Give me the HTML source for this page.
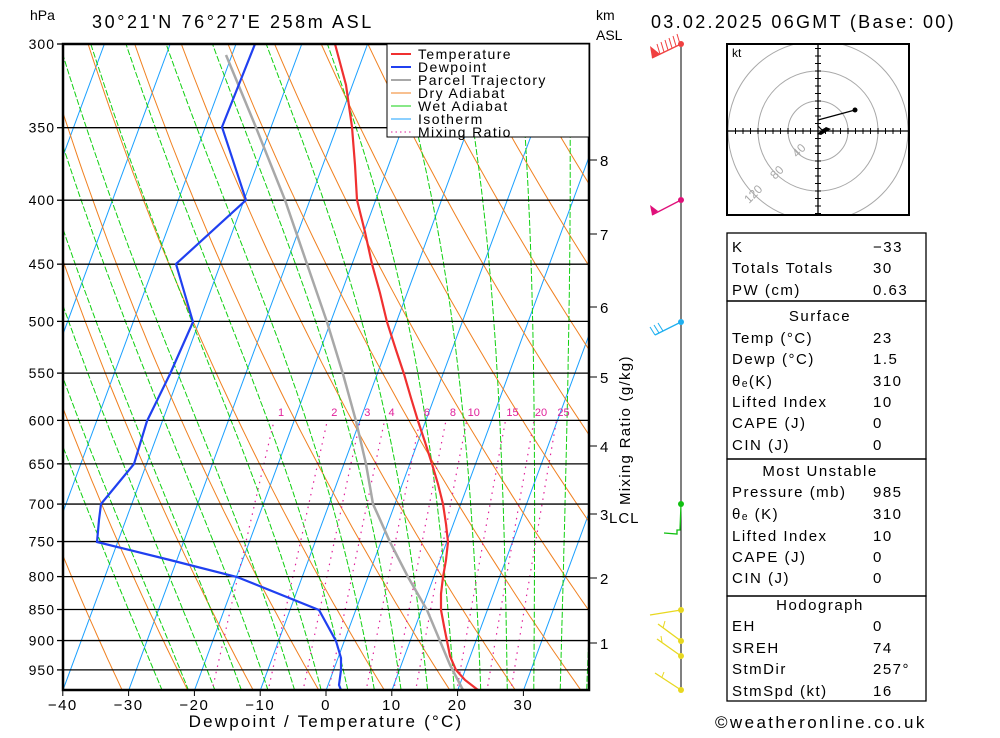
<!DOCTYPE html>
<html><head><meta charset="utf-8"><style>
body{margin:0;background:#fff;width:1000px;height:733px;overflow:hidden}
svg{font-family:"Liberation Sans",sans-serif}
</style></head><body>
<svg id="s" width="1000" height="733" xmlns="http://www.w3.org/2000/svg">
<defs><clipPath id="c"><rect x="63" y="44" width="526" height="646"/></clipPath>
<clipPath id="hc"><rect x="727" y="44" width="182" height="171"/></clipPath></defs>
<g id="bg" clip-path="url(#c)"></g>
<g id="fg"></g>
</svg>
<script>
var NS="http://www.w3.org/2000/svg";
function el(p,t,a,txt){var e=document.createElementNS(NS,t);for(var k in a)e.setAttribute(k,a[k]);if(txt!=null)e.textContent=txt;p.appendChild(e);return e;}
var bg=document.getElementById('bg'),fg=document.getElementById('fg');
function Y(p){return 44+543*Math.log(p/300);}
function X(T,p){return 326+6.58*T+0.37*(690-Y(p));}
function poly(g,pts,st){el(g,'polyline',Object.assign({points:pts.map(function(q){return q[0].toFixed(1)+','+q[1].toFixed(1)}).join(' '),fill:'none'},st));}
for(var T=-130;T<=40;T+=10){poly(bg,[[X(T,985),690],[X(T,300),44]],{stroke:'#1aa0ff','stroke-width':1});}
for(var th=-40;th<=220;th+=10){var pts=[];for(var p=1000;p>=290;p-=10){var t=(th+273.15)*Math.pow(p/1000,0.286)-273.15;pts.push([X(t,p),Y(p)]);}poly(bg,pts,{stroke:'#f08020','stroke-width':1});}
function es(T){return 6.112*Math.exp(17.67*T/(T+243.5));}
for(var t0=-24;t0<=40;t0+=4){var Tk=t0+273.15,pts=[];for(var p=1000;p>=290;p-=5){var Tc=Tk-273.15;pts.push([X(Tc,p),Y(p)]);var rs=0.622*es(Tc)/(p-es(Tc));var dT=(287*Tk+2.5e6*rs)/(p*(1004+2.5e6*2.5e6*rs*0.622/(287*Tk*Tk)));Tk-=dT*5;}poly(bg,pts,{stroke:'#10d010','stroke-width':1,'stroke-dasharray':'6,2'});}
[1,2,3,4,6,8,10,15,20,25].forEach(function(w){var pts=[];for(var p=990;p>=600;p-=10){var e=w*p/(622+w),l=Math.log(e/6.112),t=243.5*l/(17.67-l);pts.push([X(t,p),Y(p)]);}poly(bg,pts,{stroke:'#e0209a','stroke-width':1.2,'stroke-dasharray':'1.5,5'});el(fg,'text',{x:pts[pts.length-1][0]+7,y:416,'font-size':11,fill:'#e0209a','text-anchor':'middle'},String(w));});
[300,350,400,450,500,550,600,650,700,750,800,850,900,950].forEach(function(p){var y=Y(p);el(fg,'line',{x1:63,x2:589,y1:y,y2:y,stroke:'#000','stroke-width':1.3});el(fg,'line',{x1:57,x2:63,y1:y,y2:y,stroke:'#000','stroke-width':1.3});el(fg,'text',{x:55,y:y+5,'font-size':14,'text-anchor':'end','letter-spacing':'1'},String(p));});
poly(fg,[[226,55],[255,125],[285,200],[307,264],[327,322],[343,374],[356,421],[366,464],[373,504],[378,515],[390,542],[408,577],[427,610],[440,641],[450,665],[463,690]],{stroke:'#a8a8a8','stroke-width':2.5});
poly(fg,[[335,44],[346,85],[352,127],[355,165],[357,200],[365,232],[372,264],[380,293],[387,322],[396,350],[404,374],[411,398],[418,421],[425,442],[432,464],[438,484],[443,504],[446,524],[448,542],[446,560],[443,577],[441,594],[441,610],[444,626],[447,641],[450,656],[456,670],[465,680],[478,690]],{stroke:'#f03030','stroke-width':2.2});
poly(fg,[[255,44],[222,127],[246,200],[176,264],[193,322],[170,374],[147,421],[134,464],[101,504],[99,520],[97,542],[170,560],[237,577],[319,610],[336,641],[341,658],[341,670],[339,685],[341,690]],{stroke:'#2040f0','stroke-width':2.2});
el(fg,'rect',{x:63,y:44,width:526,height:646,fill:'none',stroke:'#000','stroke-width':2.5});
[-40,-30,-20,-10,0,10,20,30].forEach(function(t){var x=326+6.58*t;el(fg,'line',{x1:x,x2:x,y1:690,y2:696,stroke:'#000'});el(fg,'text',{x:x,y:710,'font-size':15,'text-anchor':'middle','letter-spacing':'1.5'},(t<0?'\u2212':'')+Math.abs(t));});
el(fg,'text',{x:326,y:727,'font-size':17,'text-anchor':'middle','letter-spacing':'2.2'},'Dewpoint / Temperature (\u00b0C)');
el(fg,'text',{x:30,y:20,'font-size':14},'hPa');
el(fg,'text',{x:92,y:28,'font-size':18,'letter-spacing':'2.6'},'30\u00b021\'N  76\u00b027\'E  258m  ASL');
el(fg,'text',{x:596,y:20,'font-size':14},'km');
el(fg,'text',{x:596,y:40,'font-size':14},'ASL');
el(fg,'text',{x:651,y:28,'font-size':18,'letter-spacing':'2.3'},'03.02.2025  06GMT  (Base: 00)');
[[8,160],[7,234],[6,307],[5,377],[4,446],[3,514],[2,578],[1,643]].forEach(function(k){el(fg,'line',{x1:589,x2:597,y1:k[1],y2:k[1],stroke:'#000'});el(fg,'text',{x:600,y:k[1]+6,'font-size':15},String(k[0]));});
el(fg,'text',{x:609,y:523,'font-size':15,'letter-spacing':'1'},'LCL');
el(fg,'text',{x:0,y:0,'font-size':15,'letter-spacing':'1.3',transform:'translate(630,505) rotate(-90)'},'Mixing Ratio (g/kg)');
el(fg,'rect',{x:387,y:44,width:202,height:93,fill:'#fff',stroke:'#000'});
[['Temperature','#f03030',2],['Dewpoint','#2040f0',2],['Parcel Trajectory','#a8a8a8',2],['Dry Adiabat','#f08020',1],['Wet Adiabat','#10d010',1],['Isotherm','#1aa0ff',1],['Mixing Ratio','#e0209a',1]].forEach(function(l,i){var y=54+i*13;el(fg,'line',{x1:391,x2:411,y1:y,y2:y,stroke:l[1],'stroke-width':l[2],'stroke-dasharray':i==6?'1.5,3':''});el(fg,'text',{x:418,y:y+5,'font-size':14,'letter-spacing':'1.4'},l[0]);});
el(fg,'line',{x1:681,x2:681,y1:44,y2:690,stroke:'#000'});
function barb(y,c,pts){el(fg,'circle',{cx:681,cy:y,r:3,fill:c});poly(fg,pts,{stroke:c,'stroke-width':1.3});}
barb(44,'#f04040',[[681,44],[652,58]]);el(fg,'polygon',{points:'652,58 650,46 660,54',fill:'#f04040'});
for(var i=0;i<6;i++)el(fg,'line',{x1:660+i*4,y1:54-i*2,x2:657+i*4,y2:44-i*2,stroke:'#f04040'});
barb(200,'#e0107a',[[681,200],[652,215]]);el(fg,'polygon',{points:'652,215 650,205 658,211',fill:'#e0107a'});
barb(322,'#20b0f0',[[681,322],[655,335]]);poly(fg,[[655,335],[650,327]],{stroke:'#20b0f0'});poly(fg,[[659,333],[654,325]],{stroke:'#20b0f0'});poly(fg,[[663,331],[658,323]],{stroke:'#20b0f0'});
barb(504,'#10c010',[[681,504],[680,530],[677,530],[677,534],[664,533]]);
barb(610,'#e8d820',[[681,610],[650,615]]);
barb(641,'#e8d820',[[681,641],[658,624]]);poly(fg,[[663,628],[665,621]],{stroke:'#e8d820'});
barb(656,'#e8d820',[[681,656],[657,639]]);poly(fg,[[662,642],[661,636]],{stroke:'#e8d820'});
barb(690,'#e8d820',[[681,690],[655,673]]);poly(fg,[[662,677],[664,672]],{stroke:'#e8d820'});
var hx=818,hy=131;
var hc=el(fg,'g',{'clip-path':'url(#hc)'});
[30,60,90].forEach(function(r){el(hc,'circle',{cx:hx,cy:hy,r:r,fill:'none',stroke:'#a8a8a8'});});
el(fg,'line',{x1:727,x2:909,y1:hy,y2:hy,stroke:'#000','stroke-width':1.3});
el(fg,'line',{x1:hx,x2:hx,y1:44,y2:215,stroke:'#000','stroke-width':1.3});
for(var d=-82.5;d<=83;d+=7.5){if(Math.abs(d)<1)continue;el(hc,'line',{x1:hx+d,x2:hx+d,y1:hy-3,y2:hy+3,stroke:'#000'});el(hc,'line',{y1:hy+d,y2:hy+d,x1:hx-3,x2:hx+3,stroke:'#000'});}
el(fg,'rect',{x:727,y:44,width:182,height:171,fill:'none',stroke:'#000','stroke-width':2});
el(fg,'text',{x:732,y:57,'font-size':12},'kt');
el(fg,'text',{x:0,y:0,'font-size':12,fill:'#a8a8a8',transform:'translate(797,158) rotate(-45)'},'40');
el(fg,'text',{x:0,y:0,'font-size':12,fill:'#a8a8a8',transform:'translate(775,180) rotate(-45)'},'80');
el(fg,'text',{x:0,y:0,'font-size':12,fill:'#a8a8a8',transform:'translate(749,204) rotate(-45)'},'120');
poly(fg,[[855,110],[818,120],[818,126],[822,130],[826,128],[820,133]],{stroke:'#000','stroke-width':1.2});
el(fg,'circle',{cx:855,cy:110,r:2.5,fill:'#000'});
el(fg,'polygon',{points:'817,134 826,127 831,129 821,135',fill:'#000'});
[[233,301],[301,459],[459,596],[596,701]].forEach(function(b){el(fg,'rect',{x:727,y:b[0],width:199,height:b[1]-b[0],fill:'none',stroke:'#000','stroke-width':1.3});});
var rows=[[247,'K','-33'],[268,'Totals Totals','30'],[290,'PW (cm)','0.63'],[316,'Surface',null],[338,'Temp (\u00b0C)','23'],[359,'Dewp (\u00b0C)','1.5'],[381,'\u03b8\u2091(K)','310'],[402,'Lifted Index','10'],[423,'CAPE (J)','0'],[445,'CIN (J)','0'],[471,'Most Unstable',null],[492,'Pressure (mb)','985'],[514,'\u03b8\u2091 (K)','310'],[536,'Lifted Index','10'],[557,'CAPE (J)','0'],[578,'CIN (J)','0'],[605,'Hodograph',null],[626,'EH','0'],[648,'SREH','74'],[669,'StmDir','257\u00b0'],[691,'StmSpd (kt)','16']];
rows.forEach(function(r){if(r[2]==null)el(fg,'text',{x:820,y:r[0]+5,'font-size':15,'text-anchor':'middle','letter-spacing':'1.5'},r[1]);else{el(fg,'text',{x:732,y:r[0]+5,'font-size':15,'letter-spacing':'1.5'},r[1]);el(fg,'text',{x:873,y:r[0]+5,'font-size':15,'letter-spacing':'1.5'},r[2]=='-33'?'\u221233':r[2]);}});
el(fg,'text',{x:715,y:728,'font-size':17,'letter-spacing':'2.4'},'\u00a9weatheronline.co.uk');
</script>
</body></html>
